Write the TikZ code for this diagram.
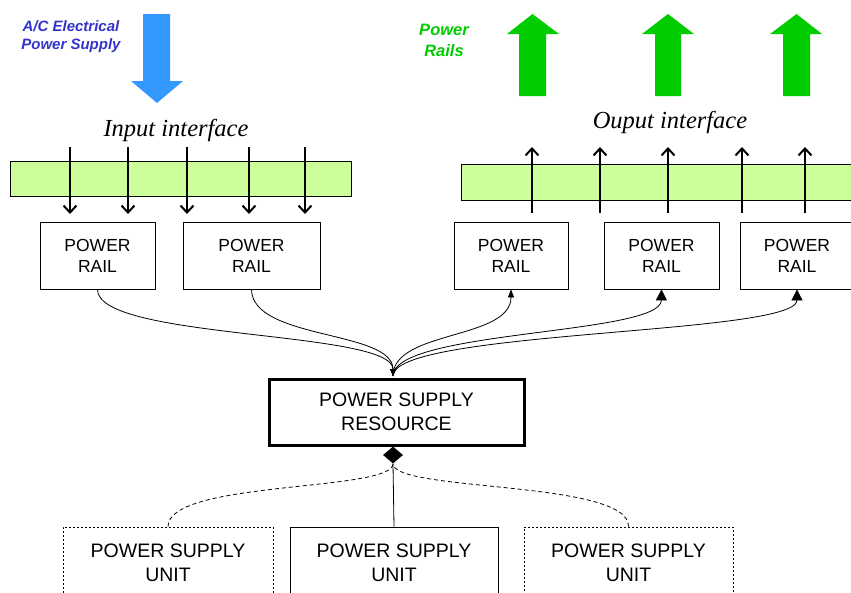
\documentclass[tikz,border=0pt]{standalone}
\usepackage{fontspec}
\setmainfont{Liberation Sans}
\newfontfamily\serifit{Liberation Serif}
\usetikzlibrary{arrows.meta,shapes.geometric}
\definecolor{barfill}{HTML}{CCFF99}
\definecolor{acblue}{HTML}{3399FF}
\definecolor{actext}{HTML}{3333CC}
\definecolor{railgreen}{HTML}{00CC00}
\tikzset{
  railbox/.style={draw, line width=0.8pt, minimum height=67pt, align=center,
    font=\fontsize{17.5}{21}\selectfont, inner sep=0pt},
  resbox/.style={draw, line width=3pt, minimum width=255pt, minimum height=66pt, align=center,
    font=\fontsize{19.5}{24}\selectfont, inner sep=0pt},
  unitbox/.style={draw, line width=0.7pt, minimum height=72pt, align=center,
    font=\fontsize{19.5}{24}\selectfont, inner sep=0pt},
  dashedbox/.style={unitbox, dash pattern=on 2pt off 2pt},
  bar/.style={draw, line width=0.8pt, fill=barfill},
  iface/.style={font=\serifit\itshape\fontsize{24.5}{28}\selectfont},
  smallarrow/.style={line width=2pt, -{Straight Barb[length=7pt,width=13pt,line width=2pt]}},
  link/.style={line width=0.8pt},
  linkarrow/.style={line width=0.8pt, -{Triangle[length=11pt,width=11pt]}},
  dashlink/.style={line width=0.8pt, dash pattern=on 4pt off 3pt},
}
\begin{document}
\begin{tikzpicture}[x=1pt,y=-1pt]
\useasboundingbox (0,0) rectangle (851,592);
% big arrows
\fill[acblue] (143,14) -- (170,14) -- (170,81) -- (183,81) -- (157,103) -- (131,81) -- (143,81) -- cycle;
\fill[railgreen] (519,96) -- (546,96) -- (546,34) -- (559,34) -- (532.5,14) -- (507,34) -- (519,34) -- cycle;
\fill[railgreen] (655,96) -- (681,96) -- (681,34) -- (694,34) -- (668,14) -- (642,34) -- (655,34) -- cycle;
\fill[railgreen] (783,96) -- (810,96) -- (810,34) -- (822,34) -- (796.5,14) -- (770,34) -- (783,34) -- cycle;
% labels
\node[align=center, text=actext, font=\bfseries\itshape\fontsize{15}{18}\selectfont] (aclabel) at (71,37) {A/C Electrical\\Power Supply};
\node[align=center, text=railgreen, font=\bfseries\itshape\fontsize{16.5}{21}\selectfont] (raillabel) at (444,40) {Power\\Rails};
\node[iface] (inlabel) at (176,130) {Input interface};
\node[iface] (outlabel) at (670,122) {Ouput interface};
% bars
\draw[bar] (10,161) rectangle (351,196);
\draw[bar] (461,164) rectangle (856,200);
% small arrows
\foreach \x in {70,128,187,249,305} \draw[smallarrow] (\x,147) -- (\x,214);
\foreach \x in {532,600,668,742,805} \draw[smallarrow] (\x,213) -- (\x,147);
% rail boxes
\node[railbox, minimum width=115pt] (r1) at (97.5,255.5) {POWER\\RAIL};
\node[railbox, minimum width=137pt] (r2) at (251.5,255.5) {POWER\\RAIL};
\node[railbox, minimum width=114pt] (r3) at (511,255.5) {POWER\\RAIL};
\node[railbox, minimum width=115pt] (r4) at (661.5,255.5) {POWER\\RAIL};
\node[railbox, minimum width=114pt] (r5) at (797,255.5) {POWER\\RAIL};
% resource
\node[resbox] (res) at (396.5,412) {POWER SUPPLY\\RESOURCE};
\coordinate (rtop) at (393,376);
% units
\node[dashedbox, minimum width=210pt] (u1) at (168,563) {POWER SUPPLY\\UNIT};
\node[unitbox, minimum width=208pt] (u2) at (394,563) {POWER SUPPLY\\UNIT};
\node[dashedbox, minimum width=209pt] (u3) at (628.5,563) {POWER SUPPLY\\UNIT};
% diamond
\node[diamond, fill=black, inner sep=0pt, minimum width=20pt, minimum height=17pt] (dia) at (393,455) {};
% connectors rails -> resource
\draw[link, -{Triangle[length=7pt,width=6pt]}] (r1.south) .. controls (97,340) and (393,330) .. (rtop);
\draw[link, -{Triangle[length=7pt,width=6pt]}] (r2.south) .. controls (252,340) and (393,330) .. (rtop);
\draw[link, -{Triangle[length=8pt,width=6pt]}] (rtop) .. controls (393,330) and (511,340) .. (r3.south);
\draw[linkarrow] (rtop) .. controls (393,330) and (661,335) .. (r4.south);
\draw[linkarrow] (rtop) .. controls (393,330) and (797,335) .. (r5.south);
% units -> diamond
\draw[link] (u2.north) -- (dia.south);
\draw[dashlink] (u1.north) .. controls (168,480) and (393,492) .. (dia.south);
\draw[dashlink] (u3.north) .. controls (630,480) and (393,492) .. (dia.south);
\end{tikzpicture}
\end{document}
